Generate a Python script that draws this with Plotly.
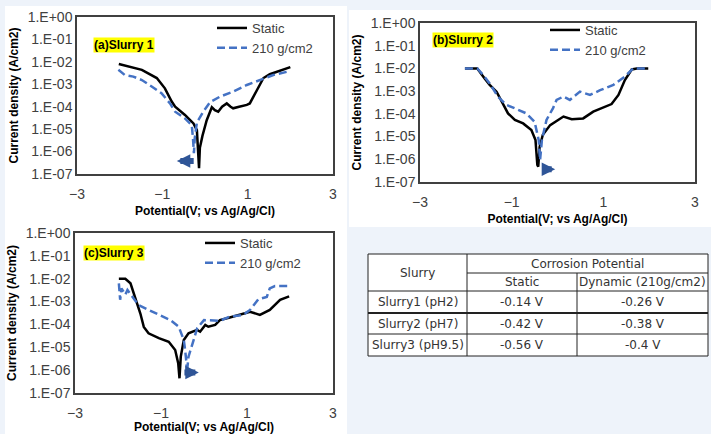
import math
import plotly.graph_objects as go

W, H = 711, 434

# ---------------- data ----------------
# Panel (a) Slurry 1
s1_static_v = [-2.02, -1.48, -1.13, -0.94, -0.78, -0.70, -0.47, -0.27, -0.19, -0.14, -0.12, -0.06, 0.04, 0.10, 0.16, 0.23, 0.31, 0.40, 0.51, 0.60, 0.66, 0.80, 0.98, 1.05, 1.21, 1.37, 1.52, 1.76, 2.00]
s1_static_j = [8.0e-3, 4.4e-3, 1.9e-3, 6.6e-4, 1.7e-4, 1.0e-4, 4.3e-5, 1.8e-5, 9.0e-6, 1.8e-7, 1.5e-6, 5.0e-6, 2.5e-5, 5.0e-5, 9.5e-5, 7.0e-5, 6.0e-5, 1.0e-4, 1.4e-4, 1.0e-4, 8.5e-5, 1.0e-4, 1.2e-4, 1.4e-4, 5.6e-4, 1.9e-3, 2.8e-3, 3.9e-3, 5.8e-3]
s1_dyn_v = [-2.03, -1.88, -1.68, -1.48, -1.25, -1.02, -0.82, -0.70, -0.47, -0.31, -0.28, -0.26, -0.24, -0.19, -0.04, 0.12, 0.35, 0.66, 0.98, 1.29, 1.60, 2.00]
s1_dyn_j = [4.4e-3, 2.6e-3, 2.2e-3, 1.55e-3, 8.0e-4, 4.0e-4, 1.4e-4, 6.0e-5, 3.0e-5, 1.5e-5, 3.5e-6, 8.5e-7, 4.0e-6, 2.0e-5, 6.0e-5, 1.6e-4, 2.8e-4, 4.7e-4, 9.3e-4, 1.55e-3, 2.6e-3, 3.9e-3]

# Panel (b) Slurry 2
s2_static_v = [-2.02, -1.75, -1.59, -1.48, -1.33, -1.19, -1.08, -0.93, -0.75, -0.57, -0.48, -0.44, -0.42, -0.39, -0.32, -0.16, 0.13, 0.31, 0.56, 0.78, 1.00, 1.18, 1.33, 1.47, 1.62, 1.73, 1.98]
s2_static_j = [1.0e-2, 1.0e-2, 3.6e-3, 1.9e-3, 9.5e-4, 2.9e-4, 1.05e-4, 5.4e-5, 3.8e-5, 1.95e-5, 7.0e-6, 5.6e-7, 4.7e-7, 3.5e-6, 1.2e-5, 3.2e-5, 7.6e-5, 5.8e-5, 6.3e-5, 1.25e-4, 1.95e-4, 2.7e-4, 6.8e-4, 3.1e-3, 9.0e-3, 1.0e-2, 1.0e-2]
s2_dyn_v = [-2.02, -1.75, -1.62, -1.48, -1.30, -1.12, -0.93, -0.68, -0.50, -0.41, -0.38, -0.34, -0.24, -0.10, -0.02, 0.13, 0.27, 0.49, 0.71, 0.93, 1.22, 1.47, 1.65, 1.98]
s2_dyn_j = [1.0e-2, 1.0e-2, 5.1e-3, 2.2e-3, 5.8e-4, 2.5e-4, 1.75e-4, 1.05e-4, 4.5e-5, 7.0e-6, 9.3e-7, 7.0e-6, 5.4e-5, 1.75e-4, 4.1e-4, 5.8e-4, 4.1e-4, 9.5e-4, 6.8e-4, 1.1e-3, 1.9e-3, 4.4e-3, 1.0e-2, 1.0e-2]

# Panel (c) Slurry 3
s3_static_v = [-1.98, -1.83, -1.71, -1.60, -1.48, -1.40, -1.29, -1.05, -0.82, -0.67, -0.60, -0.57, -0.54, -0.47, -0.36, -0.16, -0.09, 0.03, 0.10, 0.26, 0.37, 0.60, 0.80, 1.07, 1.30, 1.53, 1.77, 1.98]
s3_static_j = [1.0e-2, 1.0e-2, 6.3e-3, 1.6e-3, 3.0e-4, 7.8e-5, 4.1e-5, 2.5e-5, 1.75e-5, 7.6e-6, 2.0e-6, 4.4e-7, 3.9e-6, 2.1e-5, 4.1e-5, 5.8e-5, 4.8e-5, 9.5e-5, 7.9e-5, 9.5e-5, 1.55e-4, 2.0e-4, 2.6e-4, 3.6e-4, 2.6e-4, 4.3e-4, 1.2e-3, 1.7e-3]
s3_dyn_v = [-1.98, -1.95, -1.92, -1.83, -1.78, -1.63, -1.52, -1.29, -1.02, -0.78, -0.59, -0.47, -0.44, -0.41, -0.40, -0.36, -0.24, -0.16, 0.00, 0.14, 0.37, 0.60, 0.91, 1.07, 1.26, 1.46, 1.53, 1.65, 1.98]
s3_dyn_j = [6.3e-3, 1.2e-3, 3.8e-3, 2.0e-3, 3.2e-3, 1.4e-3, 7.0e-4, 4.3e-4, 2.6e-4, 1.55e-4, 8.0e-5, 2.1e-5, 8.0e-6, 2.3e-6, 7.2e-7, 3.9e-6, 2.1e-5, 6.8e-5, 1.55e-4, 1.55e-4, 1.45e-4, 2.2e-4, 2.6e-4, 4.3e-4, 1.25e-3, 1.6e-3, 3.8e-3, 4.8e-3, 4.8e-3]

series_names = ["Static", "210 g/cm2"]
panel_labels = ["(a)Slurry 1", "(b)Slurry 2", "(c)Slurry 3"]
x_ticks = [-3, -1, 1, 3]
y_tick_vals = [1e0, 1e-1, 1e-2, 1e-3, 1e-4, 1e-5, 1e-6, 1e-7]
y_tick_text = ["1.E+00", "1.E-01", "1.E-02", "1.E-03", "1.E-04", "1.E-05", "1.E-06", "1.E-07"]
x_title = "Potential(V; vs Ag/Ag/Cl)"
y_title = "Current density (A/cm2)"

# corrosion potential table
table_rows = ["Slurry1 (pH2)", "Slurry2 (pH7)", "Slurry3 (pH9.5)"]
table_static = ["-0.14 V", "-0.42 V", "-0.56 V"]
table_dynamic = ["-0.26 V", "-0.38 V", "-0.4 V"]
table_head = ["Slurry", "Corrosion Potential", "Static", "Dynamic (210g/cm2)"]

# arrows: (tail V, head V, current)
arrows = [(-0.23, -0.66, 3.8e-7), (-0.32, -0.05, 3.6e-7), (-0.49, -0.12, 7.8e-7)]

# ---------------- layout helpers ----------------
def px(x):
    return x / W

def py(y):
    return 1 - y / H

panels = [
    dict(x0=77, x1=333, y0=17, y1=174, data=(s1_static_v, s1_static_j, s1_dyn_v, s1_dyn_j),
         leg=(212, 13), lab=(93, 45)),
    dict(x0=420, x1=695, y0=23, y1=182, data=(s2_static_v, s2_static_j, s2_dyn_v, s2_dyn_j),
         leg=(545, 15), lab=(432, 40)),
    dict(x0=75, x1=333, y0=233, y1=393, data=(s3_static_v, s3_static_j, s3_dyn_v, s3_dyn_j),
         leg=(200, 228), lab=(83, 253)),
]

BLACK = "#000000"
BLUE = "#4472C4"
ARROW = "#2F5597"
TXT = "#404040"
FONT = "Liberation Sans"

fig = go.Figure()
layout = {}
annotations = []
shapes = []

# background cards
shapes.append(dict(type="rect", xref="paper", yref="paper", x0=px(5), x1=px(347), y0=py(434), y1=py(6),
                   fillcolor="white", line=dict(width=0), layer="below"))
shapes.append(dict(type="rect", xref="paper", yref="paper", x0=px(349), x1=px(711), y0=py(227), y1=py(10),
                   fillcolor="white", line=dict(width=0), layer="below"))

for i, p in enumerate(panels):
    n = "" if i == 0 else str(i + 1)
    xa, ya = "x" + n, "y" + n
    legname = "legend" + n
    sv, sj, dv, dj = p["data"]
    fig.add_trace(go.Scatter(x=sv, y=sj, mode="lines", name=series_names[0],
                             line=dict(color=BLACK, width=2.5), xaxis=xa, yaxis=ya, legend=legname))
    fig.add_trace(go.Scatter(x=dv, y=dj, mode="lines", name=series_names[1],
                             line=dict(color=BLUE, width=2.5, dash="8px,4px"), xaxis=xa, yaxis=ya,
                             legend=legname))
    layout["xaxis" + n] = dict(domain=[px(p["x0"]), px(p["x1"])], anchor=ya, range=[-3, 3], automargin=False,
                               tickvals=x_ticks, showgrid=False, zeroline=False, showline=True, mirror=True,
                               linecolor="#404040", linewidth=1.5, ticks="", ticklabelstandoff=6,
                               tickfont=dict(family=FONT, size=14, color=TXT),
                               title=dict(text=x_title, standoff=6,
                                          font=dict(family=FONT, size=12, color="#000", weight="bold")))
    layout["yaxis" + n] = dict(domain=[py(p["y1"]), py(p["y0"])], anchor=xa, type="log", range=[-7, 0],
                               automargin=False,
                               tickvals=y_tick_vals, ticktext=y_tick_text, showgrid=False, zeroline=False,
                               showline=True, mirror=True, linecolor="#404040", linewidth=1.5, ticks="",
                               tickfont=dict(family=FONT, size=14, color=TXT),
                               title=dict(text=y_title, standoff=6,
                                          font=dict(family=FONT, size=12, color="#000", weight="bold")))
    layout[legname] = dict(x=px(p["leg"][0]), y=py(p["leg"][1]), xanchor="left", yanchor="top",
                           bgcolor="rgba(0,0,0,0)", font=dict(family=FONT, size=13, color=TXT),
                           tracegroupgap=0)
    annotations.append(dict(text="<b>" + panel_labels[i] + "</b>", xref="paper", yref="paper",
                            x=px(p["lab"][0]), y=py(p["lab"][1]), xanchor="left", yanchor="middle",
                            showarrow=False, bgcolor="#FFFF00", borderpad=0,
                            font=dict(family=FONT, size=12, color="#000")))
    tail, head, cur = arrows[i]
    annotations.append(dict(x=head, y=math.log10(cur), ax=tail, ay=math.log10(cur), xref=xa, yref=ya,
                            axref=xa, ayref=ya, text="", showarrow=True, arrowhead=2, arrowsize=0.45,
                            arrowwidth=6, arrowcolor=ARROW))

# ---------------- table ----------------
tx = [368, 467, 577, 708]
ty = [254, 273, 291, 313, 334, 356]
shapes.append(dict(type="rect", xref="paper", yref="paper", x0=px(tx[0]), x1=px(tx[3]), y0=py(ty[5]), y1=py(ty[0]),
                   fillcolor="white", line=dict(color="#222", width=1)))
def hline(y, xa_, xb_, w=1):
    shapes.append(dict(type="line", xref="paper", yref="paper", x0=px(xa_), x1=px(xb_), y0=py(y), y1=py(y),
                       line=dict(color="#222", width=w)))
def vline(x, ya_, yb_):
    shapes.append(dict(type="line", xref="paper", yref="paper", x0=px(x), x1=px(x), y0=py(ya_), y1=py(yb_),
                       line=dict(color="#222", width=1)))
hline(ty[1], tx[1], tx[3])
hline(ty[2], tx[0], tx[3])
hline(ty[3], tx[0], tx[3], 2)
hline(ty[4], tx[0], tx[3])
vline(tx[1], ty[0], ty[5])
vline(tx[2], ty[1], ty[5])

TFONT = dict(family="DejaVu Sans", size=12, color="#333")
def cell(text, xc, yc):
    annotations.append(dict(text=text, xref="paper", yref="paper", x=px(xc), y=py(yc), xanchor="center",
                            yanchor="middle", showarrow=False, font=TFONT))
cell(table_head[0], (tx[0] + tx[1]) / 2, (ty[0] + ty[2]) / 2)
cell(table_head[1], (tx[1] + tx[3]) / 2, (ty[0] + ty[1]) / 2)
cell(table_head[2], (tx[1] + tx[2]) / 2, (ty[1] + ty[2]) / 2)
cell(table_head[3], (tx[2] + tx[3]) / 2, (ty[1] + ty[2]) / 2)
for r in range(3):
    yc = (ty[2 + r] + ty[3 + r]) / 2
    cell(table_rows[r], (tx[0] + tx[1]) / 2, yc)
    cell(table_static[r], (tx[1] + tx[2]) / 2, yc)
    cell(table_dynamic[r], (tx[2] + tx[3]) / 2, yc)

fig.update_layout(**layout)
fig.update_layout(width=W, height=H, margin=dict(l=0, r=0, t=0, b=0), paper_bgcolor="#EEF3FA",
                  plot_bgcolor="white", annotations=annotations, shapes=shapes, showlegend=True,
                  hovermode=False)
fig.write_html("out.html", config={"displayModeBar": False, "staticPlot": False},
               post_script="document.body.style.margin='0';document.body.style.padding='0';"
                           "document.body.style.overflow='hidden';")
